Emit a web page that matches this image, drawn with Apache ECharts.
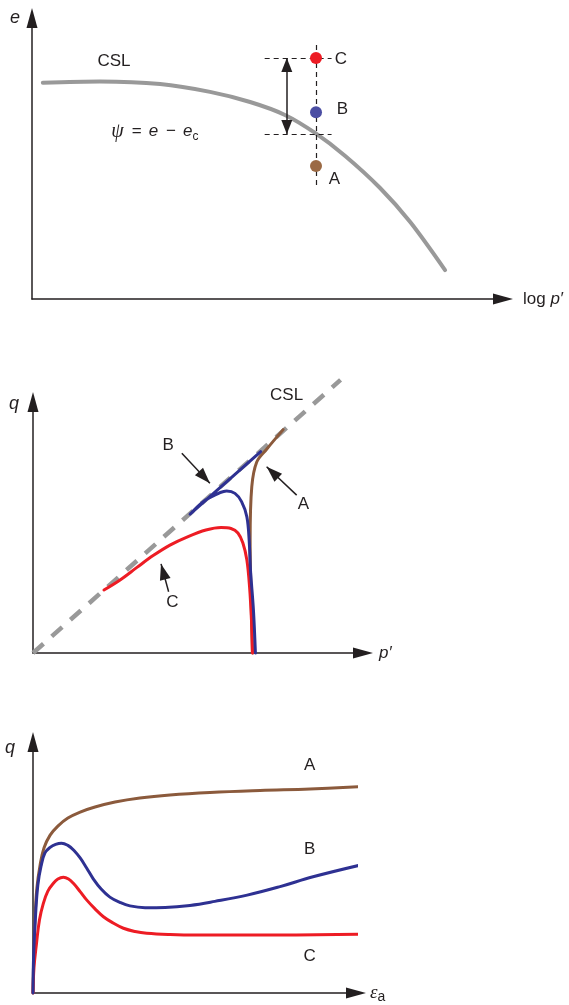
<!DOCTYPE html>
<html>
<head>
<meta charset="utf-8">
<title>State parameter and the critical state line</title>
<script src="https://cdn.jsdelivr.net/npm/echarts@6/dist/echarts.min.js"></script>
<style>
  html, body { margin: 0; padding: 0; background: #fff; }
  #chart { width: 569px; height: 1005px; }
</style>
</head>
<body>
<div id="chart"></div>
<script>
// --- top panel: e against log p' ---
const csl1LogP = [0.23, 1.44, 2.72, 3.78, 4.63, 5.37, 6.01, 6.65, 7.39, 8.03, 8.77]
const csl1E = [7.70, 7.74, 7.65, 7.37, 7.01, 6.55, 5.91, 5.09, 3.95, 2.74, 1.03]
const stateNames = ['A', 'B', 'C']
const stateLogP = 6.03
const stateE = [4.73, 6.65, 8.58]
const eOnCsl = 5.87             // e_c at the same p'
const guideLogP = [4.94, 6.36]  // horizontal guide lines
const guideE = [4.06, 9.04]     // vertical guide line
const psiLogP = 5.41            // double arrow for psi

// --- middle panel: q against p' ---
const csl2P = [0, 9.32]
const csl2Q = [0, 10.88]
const pathAP = [6.65, 6.61, 6.58, 6.63, 6.78, 7.08, 7.58]
const pathAQ = [0, 2.11, 4.50, 6.63, 7.61, 8.12, 8.90]
const pathBP = [6.74, 6.68, 6.59, 6.55, 6.48, 6.32, 6.12, 5.87, 5.57, 5.16, 4.76, 6.90]
const pathBQ = [0, 1.71, 3.31, 4.50, 5.43, 6.03, 6.36, 6.45, 6.33, 6.03, 5.53, 8.02]
const pathCP = [6.65, 6.62, 6.56, 6.48, 6.36, 6.21, 6.00, 5.70, 5.24, 4.70, 4.15, 3.64, 3.15, 2.64, 2.15]
const pathCQ = [0, 1.31, 2.67, 3.71, 4.38, 4.78, 4.96, 5.00, 4.90, 4.64, 4.30, 3.88, 3.41, 2.91, 2.51]

// --- bottom panel: q against axial strain ---
const strainA = [0, 0.02, 0.06, 0.12, 0.22, 0.34, 0.53, 0.77, 1.08, 1.46, 1.92, 2.54, 3.31, 4.24, 5.48, 7.03, 8.58, 10.28]
const qA = [0, 1.31, 2.91, 4.18, 5.10, 5.78, 6.29, 6.65, 6.97, 7.21, 7.41, 7.61, 7.77, 7.89, 7.99, 8.07, 8.13, 8.23]
const strainB = [0, 0.02, 0.08, 0.15, 0.25, 0.37, 0.53, 0.70, 0.88, 1.08, 1.27, 1.46, 1.66, 1.86, 2.11, 2.38, 2.69,
  3.00, 3.47, 4.09, 4.86, 5.63, 6.63, 7.65, 8.67, 10.28]
const qB = [0, 1.51, 3.11, 4.30, 5.06, 5.58, 5.80, 5.92, 5.97, 5.88, 5.68, 5.38, 4.98, 4.56, 4.14, 3.82, 3.61,
  3.47, 3.40, 3.41, 3.49, 3.65, 3.90, 4.24, 4.63, 5.14]
const strainC = [0, 0.03, 0.11, 0.20, 0.32, 0.46, 0.63, 0.77, 0.94, 1.10, 1.25, 1.46, 1.66, 1.92, 2.18, 2.48, 2.80,
  3.16, 3.52, 4.24, 5.08, 7.12, 10.28]
const qC = [0, 1.00, 1.99, 2.91, 3.57, 4.06, 4.37, 4.54, 4.61, 4.54, 4.37, 4.04, 3.71, 3.35, 3.04, 2.79, 2.58,
  2.45, 2.38, 2.33, 2.31, 2.31, 2.34]

const INK = '#231f20'
const RED = '#ed1c24'
const BLUE = '#2e3192'
const BROWN = '#8b5a3c'
const GRAY = '#999999'
const FONT = '"Liberation Sans", Arial, Helvetica, sans-serif'
const SERIF = '"Liberation Serif", "DejaVu Serif", serif'

const zip = (xs, ys) => xs.map((x, i) => [x, ys[i]])

const rich = {
  t: { fontFamily: FONT, fontSize: 17, color: INK, lineHeight: 22 },
  i: { fontFamily: FONT, fontSize: 17, fontStyle: 'italic', color: INK, lineHeight: 22 },
  op: { fontFamily: FONT, fontSize: 17, color: INK, lineHeight: 22, padding: [0, 7, 0, 8] },
  psi: { fontFamily: SERIF, fontSize: 20, fontStyle: 'italic', color: INK, lineHeight: 22 },
  eps: { fontFamily: SERIF, fontSize: 19, fontStyle: 'italic', color: INK, lineHeight: 22 },
  sub: { fontFamily: FONT, fontSize: 12, color: INK, verticalAlign: 'bottom', lineHeight: 12 },
  suba: { fontFamily: FONT, fontSize: 14, color: INK, verticalAlign: 'bottom', lineHeight: 14 }
}

const axisLine = {
  show: true,
  onZero: false,
  symbol: ['none', 'triangle'],
  symbolSize: [11, 20],
  lineStyle: { color: INK, width: 1.5 }
}

function makeAxis(gridIndex, name, gap, textStyle) {
  return {
    type: 'value',
    gridIndex,
    min: 0,
    max: 10,
    name,
    nameLocation: 'end',
    nameGap: gap,
    nameTextStyle: Object.assign({ color: INK, fontFamily: FONT, fontSize: 17, rich }, textStyle),
    axisLine,
    axisTick: { show: false },
    axisLabel: { show: false },
    splitLine: { show: false }
  }
}

function curve(gridIndex, data, color, width) {
  return {
    type: 'line',
    xAxisIndex: gridIndex,
    yAxisIndex: gridIndex,
    data,
    smooth: 0.35,
    symbol: 'none',
    clip: false,
    silent: true,
    lineStyle: { color, width: width || 3, cap: 'round', join: 'round' }
  }
}

// text placed on the axes' own scales
function labels(gridIndex, items) {
  return {
    type: 'scatter',
    xAxisIndex: gridIndex,
    yAxisIndex: gridIndex,
    clip: false,
    silent: true,
    symbolSize: 1,
    itemStyle: { color: 'rgba(0,0,0,0)', opacity: 1 },
    label: {
      show: true,
      position: [0, 0],
      align: 'center',
      verticalAlign: 'middle',
      color: INK,
      opacity: 1,
      textBorderWidth: 0,
      fontFamily: FONT,
      fontSize: 17,
      lineHeight: 22,
      rich
    },
    z: 10,
    data: items.map(t => ({ value: [t[0], t[1]], label: { formatter: t[2] } }))
  }
}

const arrowHead = { symbol: 'triangle', symbolSize: [11, 16], symbolOffset: [0, 8] }
function arrow(from, to) {
  return [{ coord: from, symbol: 'none' }, Object.assign({ coord: to }, arrowHead)]
}

const chart = echarts.init(document.getElementById('chart'), null, { renderer: 'canvas' })

const option = {
  animation: false,
  backgroundColor: '#ffffff',
  grid: [
    { left: 32, top: 18, width: 471, height: 281 },
    { left: 33, top: 402, width: 330, height: 251 },
    { left: 33, top: 742, width: 323, height: 251 }
  ],
  xAxis: [
    makeAxis(0, '{t|log }{i|p′}', 20, { align: 'left', verticalAlign: 'middle' }),
    makeAxis(1, '{i|p′}', 16, { align: 'left', verticalAlign: 'middle' }),
    makeAxis(2, '{eps|ε}{suba|a}', 14, { align: 'left', verticalAlign: 'middle' })
  ],
  yAxis: [
    makeAxis(0, 'e', 0, { fontStyle: 'italic', fontSize: 18, align: 'right', verticalAlign: 'middle', padding: [0, 12, 0, 0] }),
    makeAxis(1, 'q', -2, { fontStyle: 'italic', fontSize: 18, align: 'right', verticalAlign: 'middle', padding: [0, 14, 0, 0] }),
    makeAxis(2, 'q', -6, { fontStyle: 'italic', fontSize: 18, align: 'right', verticalAlign: 'middle', padding: [0, 18, 0, 0] })
  ],
  series: [
    // top panel
    Object.assign(curve(0, zip(csl1LogP, csl1E), GRAY, 4), {
      smooth: 0.3,
      markLine: {
        silent: true,
        animation: false,
        symbol: ['none', 'none'],
        label: { show: false },
        emphasis: { disabled: true },
        lineStyle: { color: INK, width: 1.2, type: [5, 4] },
        data: [
          [{ coord: [stateLogP, guideE[1]] }, { coord: [stateLogP, guideE[0]] }],
          [{ coord: [guideLogP[0], stateE[2]] }, { coord: [guideLogP[1], stateE[2]] }],
          [{ coord: [guideLogP[0], eOnCsl] }, { coord: [guideLogP[1], eOnCsl] }],
          [
            { coord: [psiLogP, stateE[2]], symbol: 'triangle', symbolSize: [11, 14], symbolOffset: [0, 7], lineStyle: { type: 'solid', width: 1.5 } },
            { coord: [psiLogP, eOnCsl], symbol: 'triangle', symbolSize: [11, 14], symbolOffset: [0, 7] }
          ]
        ]
      }
    }),
    {
      type: 'scatter',
      xAxisIndex: 0,
      yAxisIndex: 0,
      silent: true,
      symbolSize: 12,
      z: 6,
      data: stateNames.map((n, i) => ({
        name: n,
        value: [stateLogP, stateE[i]],
        itemStyle: { color: ['#9b6a45', '#4b4ea3', RED][i], opacity: 1 }
      }))
    },
    labels(0, [
      [1.75, 8.43, 'CSL'],
      [2.62, 5.94, '{psi|ψ}{op|=}{i|e}{op|−}{i|e}{sub|c}'],
      [6.57, 8.51, 'C'],
      [6.60, 6.73, 'B'],
      [6.43, 4.23, 'A']
    ]),

    // middle panel
    Object.assign(curve(1, zip(csl2P, csl2Q), GRAY, 4.5), {
      smooth: false,
      lineStyle: { color: GRAY, width: 4.5, type: [14, 11] },
      markLine: {
        silent: true,
        animation: false,
        symbol: ['none', 'none'],
        label: { show: false },
        emphasis: { disabled: true },
        lineStyle: { color: INK, width: 1.5, type: 'solid' },
        data: [
          arrow([4.51, 7.96], [5.36, 6.76]),
          arrow([7.99, 6.29], [7.08, 7.42]),
          arrow([4.11, 2.44], [3.88, 3.55])
        ]
      }
    }),
    curve(1, zip(pathAP, pathAQ), BROWN),
    curve(1, zip(pathCP, pathCQ), RED),
    curve(1, zip(pathBP, pathBQ), BLUE),
    labels(1, [
      [7.70, 10.24, 'CSL'],
      [4.11, 8.25, 'B'],
      [8.21, 5.90, 'A'],
      [4.24, 1.99, 'C']
    ]),

    // bottom panel
    Object.assign(curve(2, zip(strainA, qA), BROWN), { smooth: 0.4 }),
    Object.assign(curve(2, zip(strainC, qC), RED), { smooth: 0.4 }),
    Object.assign(curve(2, zip(strainB, qB), BLUE), { smooth: 0.4 }),
    labels(2, [
      [8.58, 9.04, 'A'],
      [8.58, 5.70, 'B'],
      [8.58, 1.43, 'C']
    ])
  ]
}

chart.setOption(option)
</script>
</body>
</html>
